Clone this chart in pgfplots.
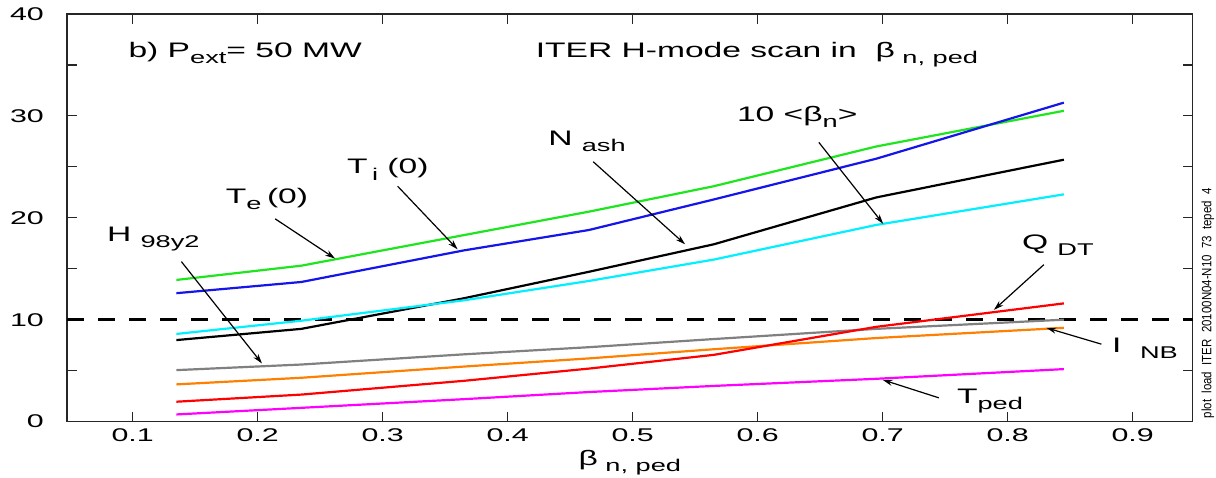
\documentclass[border=0pt]{standalone}
\usepackage{fontspec}
\setmainfont{Liberation Sans}
\usepackage{pgfplots}
\usepackage{pgfplotstable}
\pgfplotsset{compat=1.18}
\usetikzlibrary{arrows.meta}

\definecolor{cgreen}{RGB}{30,230,30}
\definecolor{cblue}{RGB}{20,20,235}
\definecolor{ccyan}{RGB}{0,240,255}
\definecolor{cgray}{RGB}{128,128,128}
\definecolor{corange}{RGB}{255,128,0}
\definecolor{cred}{RGB}{255,0,0}
\definecolor{cmag}{RGB}{255,0,255}

\newcommand{\lsub}[1]{\raisebox{-0.55ex}{\fontsize{8.5}{9}\selectfont #1}}

\pgfplotstableread{
x     Te    Ti    Nash  bet   H     INB   Q     Tped
0.135 13.9  12.6  8.0   8.6   5.05  3.65  1.95  0.7
0.235 15.3  13.7  9.1   9.9   5.6   4.3   2.65  1.35
0.365 18.3  16.8  12.1  11.9  6.6   5.4   4.0   2.2
0.465 20.6  18.8  14.7  13.8  7.3   6.2   5.2   2.9
0.565 23.1  21.8  17.4  15.9  8.1   7.1   6.55  3.5
0.695 27.0  25.8  22.0  19.3  9.1   8.2   9.3   4.2
0.845 30.5  31.3  25.7  22.3  10.0  9.2   11.6  5.15
}\datatable

\begin{document}
\begin{tikzpicture}[
  lbl/.style={font=\fontsize{10.5}{12}\selectfont, xscale=1.6, inner sep=0pt},
  arr/.style={-{Stealth[length=5pt,width=3pt]}, line width=0.6pt, black}]
\begin{axis}[
  scale only axis,
  width=562.8pt, height=203.8pt,
  xmin=0.0475, xmax=0.948,
  ymin=0, ymax=40,
  xtick={0.1,0.2,...,0.9},
  ytick={0,10,20,30,40},
  minor ytick={5,15,25,35},
  axis line style={line width=0.6pt, black!85},
  tick style={line width=0.6pt, black!85},
  major tick length=5pt, minor tick length=5pt,
  tick label style={font=\fontsize{9.2}{10}\selectfont},
  /pgf/number format/assume math mode=true,
  xticklabel style={xscale=1.65, /pgf/number format/fixed, /pgf/number format/precision=1, /pgf/number format/fixed zerofill},
  yticklabel style={xscale=1.65, xshift=-3.5pt},
  clip=false,
]
\coordinate (sw) at (rel axis cs:0,0);
\coordinate (ne) at (rel axis cs:1,1);

\addplot[black, line width=1.3pt, dash pattern=on 8.5pt off 7pt] coordinates {(0.0475,10) (0.948,10)};

\addplot[cgreen, line width=1.1pt] table[x=x, y=Te] {\datatable};
\addplot[cblue, line width=1.1pt] table[x=x, y=Ti] {\datatable};
\addplot[black, line width=1.1pt] table[x=x, y=Nash] {\datatable};
\addplot[ccyan, line width=1.1pt] table[x=x, y=bet] {\datatable};
\addplot[cgray, line width=1.1pt] table[x=x, y=H] {\datatable};
\addplot[corange, line width=1.1pt] table[x=x, y=INB] {\datatable};
\addplot[cred, line width=1.1pt] table[x=x, y=Q] {\datatable};
\addplot[cmag, line width=1.1pt] table[x=x, y=Tped] {\datatable};

% labels
\node[lbl, anchor=base west] at (axis cs:0.0962,35.75) {b) P\lsub{ext}= 50 MW};
\node[lbl, anchor=base west] at (axis cs:0.422,35.75) {ITER H-mode scan in \ β\lsub{\ n, ped}};
\node[lbl, anchor=base west] at (axis cs:0.432,27.1) {N \lsub{ash}};
\node[lbl, anchor=base west] at (axis cs:0.583,29.44) {10 <β\lsub{n}>};
\node[lbl, anchor=base west] at (axis cs:0.271,24.3) {T\lsub{\,i}\ (0)};
\node[lbl, anchor=base west] at (axis cs:0.174,21.43) {T\lsub{e}\,(0)};
\node[lbl, anchor=base west] at (axis cs:0.079,17.66) {H \lsub{98y2}};
\node[lbl, anchor=base west] at (axis cs:0.811,16.85) {Q \lsub{DT}};
\node[lbl, anchor=base west] at (axis cs:0.883,6.77) {I \ \lsub{NB}};
\node[lbl, anchor=base west] at (axis cs:0.759,1.8) {T\lsub{ped}};

% arrows
\draw[arr] (axis cs:0.4685,25.5) -- (axis cs:0.542,17.4);
\draw[arr] (axis cs:0.649,27.4) -- (axis cs:0.7005,19.4);
\draw[arr] (axis cs:0.312,23.1) -- (axis cs:0.360,16.9);
\draw[arr] (axis cs:0.214,19.9) -- (axis cs:0.262,16.0);
\draw[arr] (axis cs:0.139,15.7) -- (axis cs:0.2035,5.7);
\draw[arr] (axis cs:0.829,15.4) -- (axis cs:0.789,10.96);
\draw[arr] (axis cs:0.875,7.6) -- (axis cs:0.831,9.2);
\draw[arr] (axis cs:0.745,2.33) -- (axis cs:0.700,4.1);

% x label
\node[lbl, anchor=base] at ([yshift=-22pt]rel axis cs:0.5,0) {β\lsub{\ n, ped}};

% side text
\node[rotate=90, anchor=south west, inner sep=0pt] at ([xshift=11pt, yshift=1.5pt]rel axis cs:1,0)
  {\resizebox*{115pt}{6.3pt}{\fontsize{8}{9}\selectfont plot\ \ load\ \ ITER\ \ 20100N04-N10\ \ 73\ \ teped\ \ 4}};
\end{axis}
\pgfresetboundingbox
\path[use as bounding box] ([shift={(-33.5pt,-28.2pt)}]sw) rectangle ([shift={(11.7pt,7pt)}]ne);
\end{tikzpicture}
\end{document}
